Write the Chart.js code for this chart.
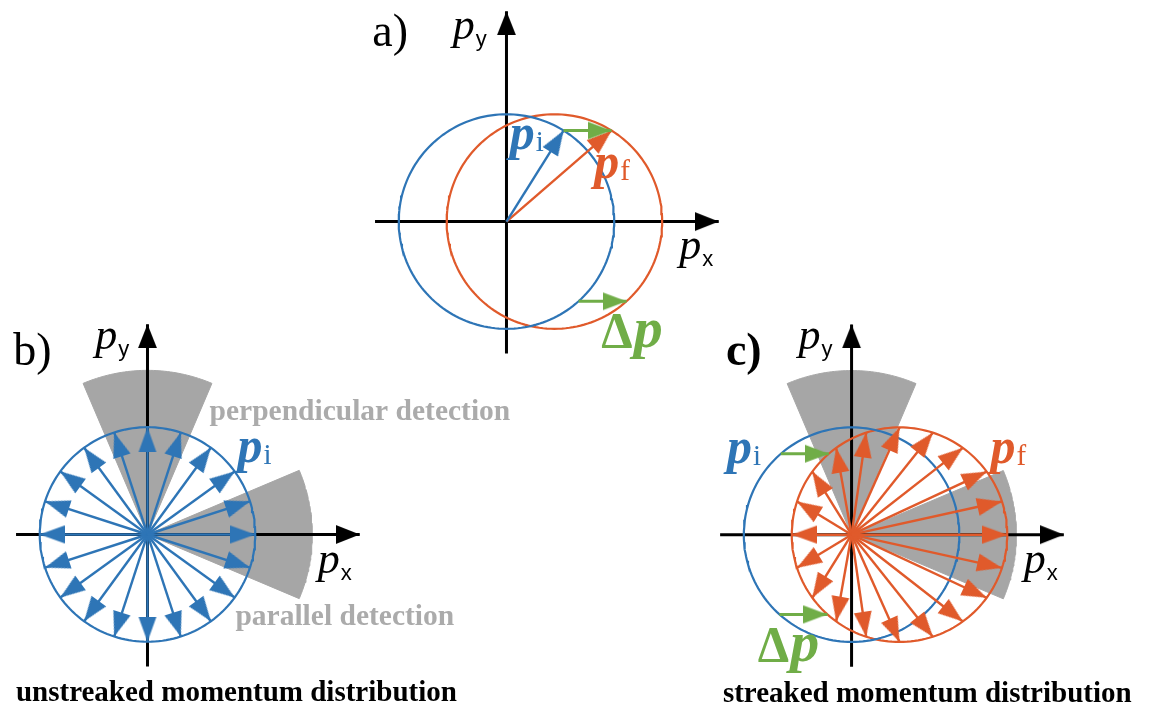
<!DOCTYPE html>
<html>
<head>
<meta charset="utf-8">
<script src="https://cdn.jsdelivr.net/npm/chart.js@4.4.1/dist/chart.umd.min.js"></script>
<style>
  html, body { margin: 0; padding: 0; background: #fff; overflow: hidden; }
  canvas { display: block; }
</style>
</head>
<body>
<canvas id="fig" width="1150" height="714"></canvas>
<script>
// ---- physical quantities (momentum in units of |p_i|) ----
const P_I = 1.0;                 // magnitude of the initial momentum p_i
const DELTA_P = 0.445;           // streaking shift Δp along p_x
// emission directions of the momentum arrows in b) and c), degrees
const EMISSION_ANGLES = [0, 18, 36, 54, 72, 90, 108, 126, 144, 162,
                         180, 198, 216, 234, 252, 270, 288, 306, 324, 342];
// the single example direction shown in a)
const EXAMPLE_ANGLE_A = 58;
// positions on the p_i circle where the Δp arrows are drawn
const SHIFT_ANGLES_A = [58, -48];
const SHIFT_ANGLES_C = [131, -132];
// detector acceptance sectors [from, to] in degrees, and their reach
const DETECTOR_SECTORS = [[67, 113], [-23, 23]];
const DETECTOR_REACH = 1.53;
// extent of the p_x / p_y axes
const AXIS_X = [-1.22, 1.97];
const AXIS_Y = [-1.23, 1.96];

// ---- layout ----
const W = 1150, H = 714;
const S = 108.5;                 // pixels per momentum unit
const PANELS = {
  A: { ox: 506,   oy: 220 },
  B: { ox: 144.5, oy: 536.5 },
  C: { ox: 853.5, oy: 536.7 }
};

const C_BLUE = '#2E75B6', C_RED = '#E05A2B', C_GREEN = '#70AD47';
const C_SECTOR = '#A6A6A6', C_GRAYTEXT = '#ABABAB', C_BLACK = '#000000';
const SERIF = '"Liberation Serif","DejaVu Serif",serif';
const SANS = '"Liberation Sans","DejaVu Sans",sans-serif';

// arrowhead bitmaps: tip sits at the bitmap centre, pointing to +x
function headCanvas(len, wid, color) {
  const c = document.createElement('canvas');
  c.width = Math.ceil(len * 2);
  c.height = Math.ceil(wid + 2);
  const g = c.getContext('2d');
  g.fillStyle = color;
  g.beginPath();
  g.moveTo(0, c.height / 2 - wid / 2);
  g.lineTo(c.width / 2, c.height / 2);
  g.lineTo(0, c.height / 2 + wid / 2);
  g.closePath();
  g.fill();
  return c;
}
const HEAD_BLACK = headCanvas(24, 19, C_BLACK);
const HEAD_BLUE = headCanvas(25, 18, C_BLUE);
const HEAD_RED = headCanvas(25, 18, C_RED);
const HEAD_GREEN = headCanvas(24, 18, C_GREEN);

const rad = d => d * Math.PI / 180;
const datasets = [];

function add(panel, data, opts) {
  datasets.push(Object.assign({
    xAxisID: 'x' + panel, yAxisID: 'y' + panel, data,
    showLine: true, pointRadius: 0, pointHoverRadius: 0, borderWidth: 2,
    fill: false, tension: 0
  }, opts));
}

function circle(panel, cx, r, color) {
  const pts = [];
  for (let a = 0; a <= 360; a += 2) pts.push({ x: cx + r * Math.cos(rad(a)), y: r * Math.sin(rad(a)) });
  add(panel, pts, { borderColor: color, borderWidth: 2.2, order: 30 });
}

function sector(panel, a0, a1, r) {
  const pts = [{ x: 0, y: 0 }];
  for (let a = a0; a <= a1 + 1e-9; a += 1) pts.push({ x: r * Math.cos(rad(a)), y: r * Math.sin(rad(a)) });
  pts.push({ x: 0, y: 0 });
  add(panel, pts, { borderColor: C_SECTOR, borderWidth: 1, backgroundColor: C_SECTOR, fill: 'shape', order: 100 });
}

function arrow(panel, x0, y0, x1, y1, color, head, width, order) {
  const ang = Math.atan2(y1 - y0, x1 - x0) * 180 / Math.PI;
  add(panel, [{ x: x0, y: y0 }, { x: x1, y: y1 }], {
    borderColor: color, borderWidth: width,
    pointRadius: [0, 1], pointStyle: head, pointRotation: [0, -ang], order
  });
}

function axes(panel) {
  arrow(panel, AXIS_X[0], 0, AXIS_X[1], 0, C_BLACK, HEAD_BLACK, 3, 40);
  arrow(panel, 0, AXIS_Y[0], 0, AXIS_Y[1], C_BLACK, HEAD_BLACK, 3, 40);
}

// a) a single initial momentum and its streaked counterpart
axes('A');
circle('A', 0, P_I, C_BLUE);
circle('A', DELTA_P, P_I, C_RED);
{
  const px = P_I * Math.cos(rad(EXAMPLE_ANGLE_A)), py = P_I * Math.sin(rad(EXAMPLE_ANGLE_A));
  arrow('A', 0, 0, px, py, C_BLUE, HEAD_BLUE, 2.4, 20);
  arrow('A', 0, 0, px + DELTA_P, py, C_RED, HEAD_RED, 2.4, 21);
}
SHIFT_ANGLES_A.forEach(a => {
  const px = P_I * Math.cos(rad(a)), py = P_I * Math.sin(rad(a));
  arrow('A', px, py, px + DELTA_P, py, C_GREEN, HEAD_GREEN, 3, 10);
});

// b) isotropic initial distribution with the two detector sectors
DETECTOR_SECTORS.forEach(s => sector('B', s[0], s[1], DETECTOR_REACH));
axes('B');
circle('B', 0, P_I, C_BLUE);
EMISSION_ANGLES.forEach(a => {
  arrow('B', 0, 0, P_I * Math.cos(rad(a)), P_I * Math.sin(rad(a)), C_BLUE, HEAD_BLUE, 2.4, 20);
});

// c) the same distribution shifted by Δp
DETECTOR_SECTORS.forEach(s => sector('C', s[0], s[1], DETECTOR_REACH));
axes('C');
circle('C', 0, P_I, C_BLUE);
circle('C', DELTA_P, P_I, C_RED);
EMISSION_ANGLES.forEach(a => {
  arrow('C', 0, 0, P_I * Math.cos(rad(a)) + DELTA_P, P_I * Math.sin(rad(a)), C_RED, HEAD_RED, 2.4, 20);
});
SHIFT_ANGLES_C.forEach(a => {
  const px = P_I * Math.cos(rad(a)), py = P_I * Math.sin(rad(a));
  arrow('C', px, py, px + DELTA_P, py, C_GREEN, HEAD_GREEN, 3, 10);
});

// ---- text, anchored in each panel's momentum coordinates (left, baseline) ----
// parts: [text, font, dy, dx]
const axisLabel = sub => [['p', 'italic 44px ' + SERIF, 0, 0], [sub, '22px ' + SANS, 7, 1]];
const vecLabel = sub => [['p', 'italic bold 50px ' + SERIF, 0, 0], [sub, '29px ' + SERIF, 2, 1]];
const deltaLabel = [['\u0394', 'bold 50px ' + SERIF, 0, 0], ['p', 'italic bold 58px ' + SERIF, 0, 1]];
const panelTag = (t, bold) => [[t, (bold ? 'bold ' : '') + '46px ' + SERIF, 0, 0]];

const LABELS = [
  { panel: 'A', at: [-1.245, 1.64], color: C_BLACK, parts: panelTag('a)') },
  { panel: 'A', at: [-0.498, 1.70], color: C_BLACK, parts: axisLabel('y') },
  { panel: 'A', at: [1.604, -0.35], color: C_BLACK, parts: axisLabel('x') },
  { panel: 'A', at: [0.030, 0.68], color: C_BLUE, parts: vecLabel('i') },
  { panel: 'A', at: [0.815, 0.41], color: C_RED, parts: vecLabel('f') },
  { panel: 'A', at: [0.88, -1.17], color: C_GREEN, parts: deltaLabel },

  { panel: 'B', at: [-1.245, 1.58], color: C_BLACK, parts: panelTag('b)') },
  { panel: 'B', at: [-0.484, 1.73], color: C_BLACK, parts: axisLabel('y') },
  { panel: 'B', at: [1.581, -0.355], color: C_BLACK, parts: axisLabel('x') },
  { panel: 'B', at: [0.835, 0.68], color: C_BLUE, parts: vecLabel('i') },
  { panel: 'B', at: [0.576, 1.065], color: C_GRAYTEXT, parts: [['perpendicular detection', 'bold 29.5px ' + SERIF, 0, 0]] },
  { panel: 'B', at: [0.816, -0.843], color: C_GRAYTEXT, parts: [['parallel detection', 'bold 29.5px ' + SERIF, 0, 0]] },
  { panel: 'B', at: [-1.221, -1.553], color: C_BLACK, parts: [['unstreaked momentum distribution', 'bold 29px ' + SERIF, 0, 0]] },

  { panel: 'C', at: [-1.166, 1.58], color: C_BLACK, parts: panelTag('c)', true) },
  { panel: 'C', at: [-0.493, 1.73], color: C_BLACK, parts: axisLabel('y') },
  { panel: 'C', at: [1.599, -0.353], color: C_BLACK, parts: axisLabel('x') },
  { panel: 'C', at: [-1.155, 0.67], color: C_BLUE, parts: vecLabel('i') },
  { panel: 'C', at: [1.29, 0.67], color: C_RED, parts: vecLabel('f') },
  { panel: 'C', at: [-0.87, -1.18], color: C_GREEN, parts: deltaLabel },
  { panel: 'C', at: [-1.194, -1.555], color: C_BLACK, parts: [['streaked momentum distribution', 'bold 29px ' + SERIF, 0, 0]] }
];

const labelPlugin = {
  id: 'panelLabels',
  afterDatasetsDraw(chart) {
    const ctx = chart.ctx;
    ctx.save();
    ctx.textAlign = 'left';
    ctx.textBaseline = 'alphabetic';
    LABELS.forEach(l => {
      let x = chart.scales['x' + l.panel].getPixelForValue(l.at[0]);
      const y = chart.scales['y' + l.panel].getPixelForValue(l.at[1]);
      ctx.fillStyle = l.color;
      l.parts.forEach(([t, font, dy, dx]) => {
        ctx.font = font;
        x += dx;
        ctx.fillText(t, x, y + dy);
        x += ctx.measureText(t).width;
      });
    });
    ctx.restore();
  }
};

// one scale pair per panel, same pixels-per-unit on both axes
const scales = {};
Object.entries(PANELS).forEach(([k, p]) => {
  scales['x' + k] = { type: 'linear', display: false, min: -p.ox / S, max: (W - p.ox) / S };
  scales['y' + k] = { type: 'linear', display: false, min: -(H - p.oy) / S, max: p.oy / S };
});

new Chart(document.getElementById('fig'), {
  type: 'scatter',
  data: { datasets },
  options: {
    responsive: false,
    animation: false,
    devicePixelRatio: 1,
    layout: { padding: 0 },
    events: [],
    scales,
    plugins: { legend: { display: false }, tooltip: { enabled: false }, title: { display: false } }
  },
  plugins: [labelPlugin]
});
</script>
</body>
</html>
